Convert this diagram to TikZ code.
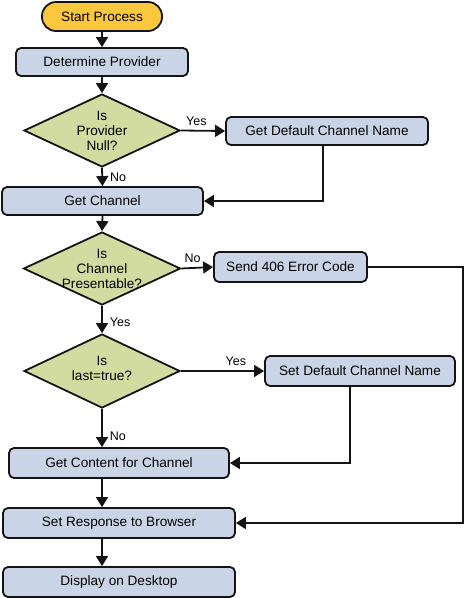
\documentclass[tikz,border=0pt]{standalone}
\usepackage{fontspec}
\setmainfont{Liberation Sans}
\usepackage{tikz}
\usetikzlibrary{arrows.meta}
\usetikzlibrary{shapes.geometric}
\definecolor{startcolor}{HTML}{FBC73D}
\definecolor{boxcolor}{HTML}{C9D5E6}
\definecolor{askcolor}{HTML}{D2DCA0}
\definecolor{edgecolor}{HTML}{141414}
\tikzset{
  procbox/.style={draw=edgecolor, line width=1.8pt, fill=boxcolor, rounded corners=5pt,
    inner sep=0pt, font=\fontsize{13.6}{15}\selectfont},
  startbox/.style={procbox, fill=startcolor, rounded corners=14pt},
  askbox/.style={draw=edgecolor, line width=1.8pt, fill=askcolor, shape=diamond,
    inner sep=0pt, shape aspect=2.1},
  asktext/.style={align=center, font=\fontsize{13.6}{15}\selectfont, inner sep=0pt},
  flowline/.style={draw=edgecolor, line width=1.8pt, -{Triangle[length=10pt,width=12pt]}},
  answer/.style={font=\fontsize{12.5}{14}\selectfont, inner sep=1pt}
}

\begin{document}
\begin{tikzpicture}[x=1pt,y=-1pt]
\useasboundingbox (0,0) rectangle (465,598);
% boxes of the main column
\node[startbox, minimum width=120, minimum height=29] (start) at (102,16.5) {Start Process};
\node[procbox, minimum width=172, minimum height=28] (determine) at (102,62) {Determine Provider};
\node[askbox, minimum width=156, minimum height=73,
   label={[asktext]center:Is\\Provider\\Null?}] (isnull) at (102,130.5) {};
\node[procbox, minimum width=202, minimum height=28] (defaultname) at (327,131) {Get Default Channel Name};
\node[procbox, minimum width=201, minimum height=28] (getchannel) at (102.5,201) {Get Channel};
\node[askbox, minimum width=157, minimum height=73,
   label={[asktext]center:Is\\Channel\\Presentable?}] (ispres) at (102,268.5) {};
\node[procbox, minimum width=153, minimum height=30] (senderror) at (290.5,267) {Send 406 Error Code};
\node[askbox, minimum width=156, minimum height=74,
   label={[asktext, yshift=3pt]center:Is\\last=true?}] (islast) at (102,371) {};
\node[procbox, minimum width=190, minimum height=30] (setdefault) at (360,371) {Set Default Channel Name};
\node[procbox, minimum width=220, minimum height=30] (getcontent) at (119,463) {Get Content for Channel};
\node[procbox, minimum width=232, minimum height=30] (setresponse) at (119,523) {Set Response to Browser};
\node[procbox, minimum width=232, minimum height=30] (display) at (119,582) {Display on Desktop};
\coordinate (spine) at (102,0);
\coordinate (rail) at (463,267);

% connectors
\draw[flowline] (start) -- (determine);
\draw[flowline] (determine) -- (isnull);
\draw[flowline] (isnull.east) -- (defaultname.west) node[answer, above=3pt, pos=0.35] {Yes};
\draw[flowline] (isnull.south) -- (getchannel.north) node[answer, right=6pt, midway] {No};
\draw[flowline] (defaultname.south -| 323,0) |- (getchannel.east);
\draw[flowline] (getchannel.south) -- (ispres.north);
\draw[flowline] (ispres.east) -- (senderror.west) node[answer, above=3pt, pos=0.35] {No};
\draw[flowline] (ispres.south) -- (islast.north) node[answer, right=6pt, pos=0.6] {Yes};
\draw[flowline] (islast.east) -- (setdefault.west) node[answer, above=3pt, pos=0.66] {Yes};
\draw[flowline] (islast.south) -- (spine |- getcontent.north) node[answer, right=6pt, pos=0.72] {No};
\draw[flowline] ([xshift=-10pt]setdefault.south) |- (getcontent.east);
\draw[flowline] (spine |- getcontent.south) -- (spine |- setresponse.north);
\draw[flowline] (senderror.east) -- (rail) |- (setresponse.east);
\draw[flowline] (spine |- setresponse.south) -- (spine |- display.north);
\end{tikzpicture}
\end{document}
